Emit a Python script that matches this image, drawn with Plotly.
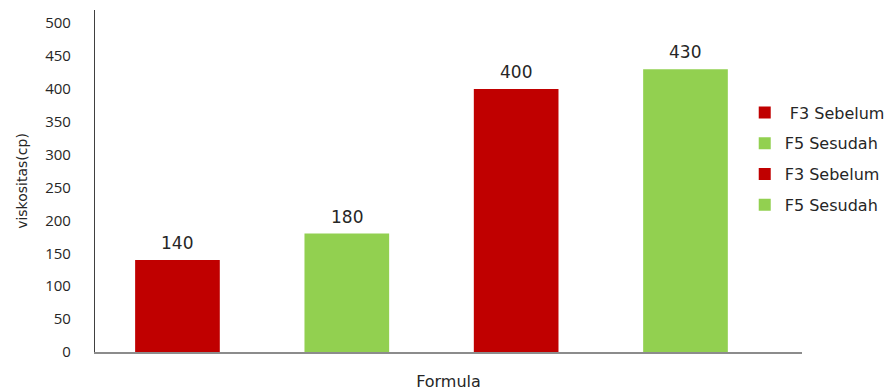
import plotly.graph_objects as go

# Viscosity per formula
series_names = ["F3 Sebelum", "F5 Sesudah", "F3 Sebelum", "F5 Sesudah"]
viscosity = [140, 180, 400, 430]
bar_colors = ["#C00000", "#92D050", "#C00000", "#92D050"]
y_ticks = [0, 50, 100, 150, 200, 250, 300, 350, 400, 450, 500]

tick_font = "Open Sans, Liberation Sans, sans-serif"
wide_font = "DejaVu Sans, Verdana, sans-serif"
text_color = "#262626"

fig = go.Figure()
for i, (name, val, col) in enumerate(zip(series_names, viscosity, bar_colors)):
    label = (" " + name) if i == 0 else name
    fig.add_trace(go.Bar(
        x=[i], y=[val], name=label, marker_color=col, marker_line_width=0,
        width=0.5, legendgroup=str(i), showlegend=True,
    ))
    fig.add_annotation(
        x=i, y=val, text=str(val), showarrow=False, yanchor="bottom", yshift=5,
        font=dict(family=wide_font, size=17, color=text_color),
    )

fig.update_layout(
    width=893, height=392,
    margin=dict(l=95, r=91, t=10, b=40, autoexpand=False),
    paper_bgcolor="white", plot_bgcolor="white",
    font=dict(family=tick_font, color=text_color),
    showlegend=True,
    legend=dict(
        x=0.919, y=0.75, xanchor="left", yanchor="top",
        font=dict(family=wide_font, size=16, color=text_color),
        traceorder="grouped", tracegroupgap=7,
        itemwidth=30, bgcolor="rgba(0,0,0,0)",
    ),
    bargap=0.5,
)

fig.update_xaxes(
    range=[-0.487, 3.688], showticklabels=False, ticks="",
    showgrid=False, zeroline=False,
    showline=True, linecolor="#8c8c8c", linewidth=1.5,
    title=dict(text="Formula", font=dict(family=wide_font, size=16, color=text_color), standoff=23),
)
fig.update_yaxes(
    range=[0, 520], tickvals=y_ticks, ticks="",
    ticklabelstandoff=20,
    tickfont=dict(family=tick_font, size=15, color=text_color),
    showgrid=False, zeroline=False,
    showline=True, linecolor="#404040", linewidth=1.2,
    title=dict(text="viskositas(cp)", font=dict(family=wide_font, size=14, color=text_color), standoff=14),
)

fig.write_html("out.html")
